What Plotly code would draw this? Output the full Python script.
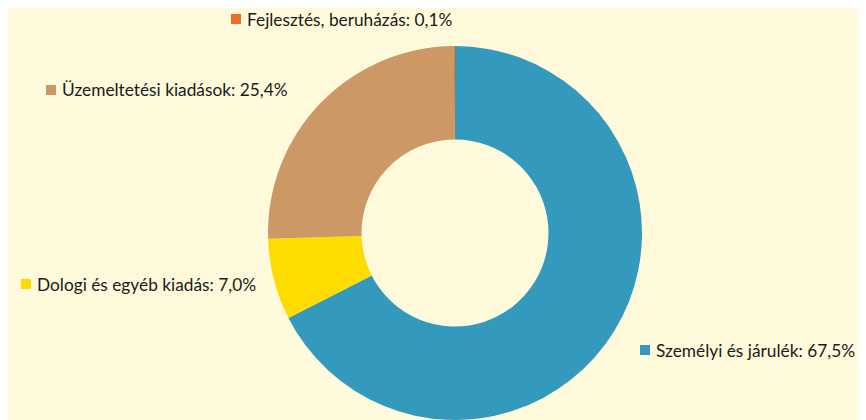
import plotly.graph_objects as go

categories = ["Személyi és járulék", "Dologi és egyéb kiadás", "Üzemeltetési kiadások", "Fejlesztés, beruházás"]
values = [67.5, 7.0, 25.4, 0.1]
value_labels = ["67,5%", "7,0%", "25,4%", "0,1%"]
colors = ["#3399BD", "#FFDC00", "#CC9966", "#E8701E"]

W, H = 866, 420
BG = "#FFFADC"
OFF = 8  # page body margin offset

cx, cy, r = 455 - OFF, 233 - OFF, 187
fig = go.Figure(go.Pie(
    labels=categories, values=values, sort=False, direction="clockwise", rotation=0,
    hole=0.5, textinfo="none", hoverinfo="label+percent",
    marker=dict(colors=colors, line=dict(width=0)),
    domain=dict(x=[(cx - r) / W, (cx + r) / W], y=[1 - (cy + r) / H, 1 - (cy - r) / H]),
    showlegend=False,
))

# label placement (pixel positions: square left, center y)
label_pos = [(640, 350), (21, 284), (46, 90), (231, 19)]
for cat, lab, col, (px, py) in zip(categories, value_labels, colors, label_pos):
    px -= OFF
    py -= OFF
    fig.add_shape(type="rect", xref="paper", yref="paper",
                  x0=px / W, x1=(px + 10) / W, y0=1 - (py + 5) / H, y1=1 - (py - 5) / H,
                  fillcolor=col, line=dict(width=0))
    fig.add_annotation(xref="paper", yref="paper", x=(px + 15) / W, y=1 - py / H,
                       xanchor="left", yanchor="middle", showarrow=False, borderpad=0,
                       text=f"{cat}: {lab}",
                       font=dict(family="Lato", size=17.3, color="#1A1A1A"))

fig.update_layout(width=W, height=H, margin=dict(l=0, r=0, t=0, b=0),
                  paper_bgcolor=BG, plot_bgcolor=BG)
fig.write_html("out.html")
